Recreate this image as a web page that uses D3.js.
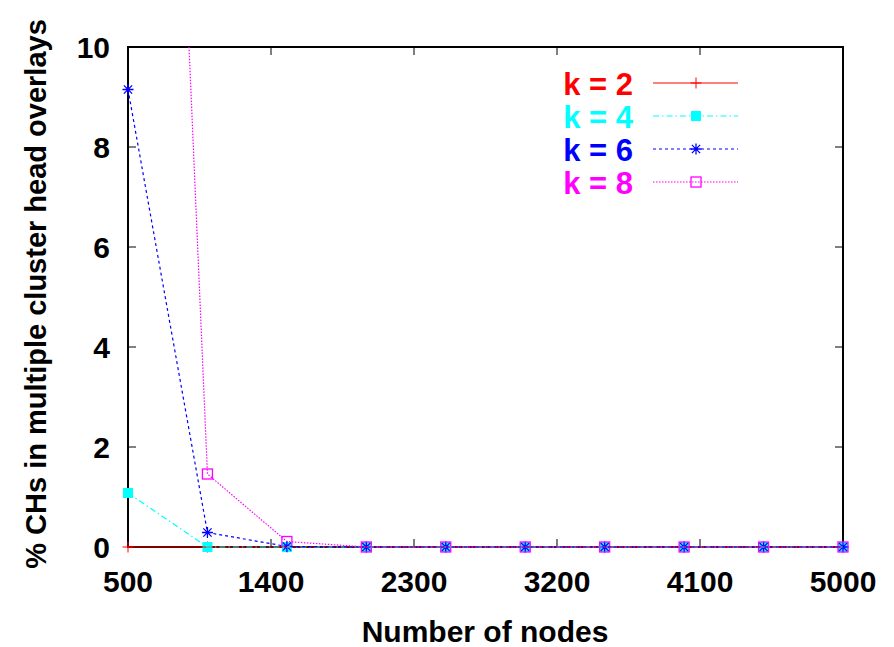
<!DOCTYPE html>
<html><head><meta charset="utf-8">
<script src="https://cdn.jsdelivr.net/npm/d3@7"></script>
<style>body{margin:0;background:#fff}svg{display:block}text{font-family:"Liberation Sans",Arial,sans-serif;font-weight:bold}</style>
</head><body><svg id="c" width="894" height="647"></svg>
<script>
const nodes = [500,1000,1500,2000,2500,3000,3500,4000,4500,5000];
const k2 = [0,0,0,0,0,0,0,0,0,0];
const k4 = [1.08,0,0,0,0,0,0,0,0,0];
const k6 = [9.15,0.29,0.01,0,0,0,0,0,0,0];
const k8 = [38.3,1.46,0.11,0,0,0,0,0,0,0];
const xTicks = [500,1400,2300,3200,4100,5000];
const yTicks = [0,2,4,6,8,10];
const seriesNames = ["k = 2","k = 4","k = 6","k = 8"];
const colors = ["#ff0000","#00ffff","#0000ff","#ff00ff"];

const series = [
  {name:seriesNames[0], vals:k2, color:colors[0], dash:null, marker:"plus"},
  {name:seriesNames[1], vals:k4, color:colors[1], dash:"6,3,1.5,3", marker:"fsquare"},
  {name:seriesNames[2], vals:k6, color:colors[2], dash:"3,3", marker:"star"},
  {name:seriesNames[3], vals:k8, color:colors[3], dash:"1.5,1.5", marker:"osquare"}
];

const svg = d3.select("#c");
const L=128, R=843, T=47, B=547;
const x = d3.scaleLinear().domain([500,5000]).range([L,R]);
const y = d3.scaleLinear().domain([0,10]).range([B,T]);

svg.append("defs").append("clipPath").attr("id","clip")
  .append("rect").attr("x",L-6).attr("y",T).attr("width",R-L+12).attr("height",B-T+8);

// frame first so data draws over it
svg.append("rect").attr("x",L).attr("y",T).attr("width",R-L).attr("height",B-T).attr("fill","none").attr("stroke","#000").attr("stroke-width",2);

const tl = 8;
const ax = svg.append("g");
xTicks.forEach(t=>{
  ax.append("line").attr("x1",x(t)).attr("x2",x(t)).attr("y1",B).attr("y2",B-tl).attr("stroke","#000");
  ax.append("line").attr("x1",x(t)).attr("x2",x(t)).attr("y1",T).attr("y2",T+tl).attr("stroke","#000");
  ax.append("text").attr("x",x(t)).attr("y",592).attr("text-anchor","middle").attr("font-size",30).text(t);
});
yTicks.forEach(t=>{
  ax.append("line").attr("x1",L).attr("x2",L+tl).attr("y1",y(t)).attr("y2",y(t)).attr("stroke","#000");
  ax.append("line").attr("x1",R).attr("x2",R-tl).attr("y1",y(t)).attr("y2",y(t)).attr("stroke","#000");
  ax.append("text").attr("x",110).attr("y",y(t)+11).attr("text-anchor","end").attr("font-size",30).text(t);
});

const plot = svg.append("g").attr("clip-path","url(#clip)");
const line = d3.line().x((d,i)=>x(nodes[i])).y(d=>y(d));

function marker(g, type, cx, cy, color){
  const s=5.5;
  if(type==="plus"){
    g.append("path").attr("d",`M${cx-s},${cy}H${cx+s}M${cx},${cy-s}V${cy+s}`).attr("stroke",color).attr("stroke-width",1).attr("fill","none");
  } else if(type==="fsquare"){
    g.append("rect").attr("x",cx-5).attr("y",cy-5).attr("width",10).attr("height",10).attr("fill",color);
  } else if(type==="osquare"){
    g.append("rect").attr("x",cx-5).attr("y",cy-5).attr("width",10).attr("height",10).attr("fill","none").attr("stroke",color).attr("stroke-width",1.3);
  } else if(type==="star"){
    g.append("path").attr("d",`M${cx-s},${cy}H${cx+s}M${cx},${cy-s}V${cy+s}M${cx-s*0.75},${cy-s*0.75}L${cx+s*0.75},${cy+s*0.75}M${cx-s*0.75},${cy+s*0.75}L${cx+s*0.75},${cy-s*0.75}`).attr("stroke",color).attr("stroke-width",1.3).attr("fill","none");
  }
}

const lineClip = svg.append("g").attr("clip-path","url(#clip)");
series.forEach(s=>{
  lineClip.append("path").datum(s.vals).attr("d",line).attr("fill","none").attr("stroke",s.color).attr("stroke-width",1.2).attr("stroke-dasharray",s.dash);
});
series.forEach(s=>{
  s.vals.forEach((v,i)=>{ if(v<=10) marker(plot,s.marker,x(nodes[i]),y(v),s.color); });
});

series.forEach((s,i)=>{
  const ly = 83 + i*33;
  svg.append("text").attr("x",633).attr("y",ly+12).attr("text-anchor","end").attr("font-size",31).attr("fill",s.color).text(s.name);
  svg.append("line").attr("x1",653).attr("x2",738).attr("y1",ly).attr("y2",ly).attr("stroke",s.color).attr("stroke-width",1.2).attr("stroke-dasharray",s.dash);
  marker(svg,s.marker,696,ly,s.color);
});

svg.append("text").attr("x",485).attr("y",642).attr("text-anchor","middle").attr("font-size",30).text("Number of nodes");
svg.append("text").attr("transform","translate(46,294) rotate(-90)").attr("text-anchor","middle").attr("font-size",29).text("% CHs in multiple cluster head overlays");
</script></body></html>
